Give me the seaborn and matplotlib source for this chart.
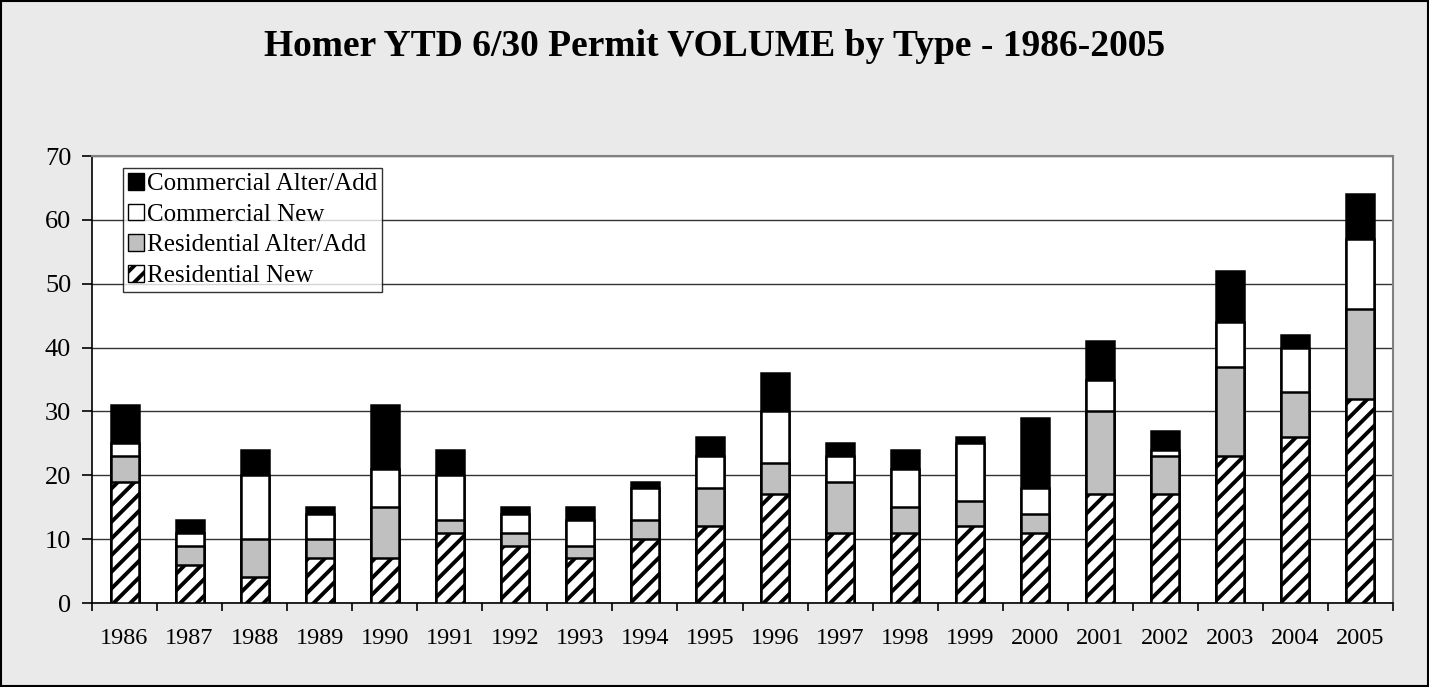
import seaborn as sns
import matplotlib.pyplot as plt
import pandas as pd
import numpy as np
from matplotlib.patches import Patch, Rectangle

years = ['1986', '1987', '1988', '1989', '1990', '1991', '1992', '1993', '1994', '1995',
         '1996', '1997', '1998', '1999', '2000', '2001', '2002', '2003', '2004', '2005']
res_new = [19, 6, 4, 7, 7, 11, 9, 7, 10, 12, 17, 11, 11, 12, 11, 17, 17, 23, 26, 32]
res_alter = [4, 3, 6, 3, 8, 2, 2, 2, 3, 6, 5, 8, 4, 4, 3, 13, 6, 14, 7, 14]
com_new = [2, 2, 10, 4, 6, 7, 3, 4, 5, 5, 8, 4, 6, 9, 4, 5, 1, 7, 7, 11]
com_alter = [6, 2, 4, 1, 10, 4, 1, 2, 1, 3, 6, 2, 3, 1, 11, 6, 3, 8, 2, 7]

df = pd.DataFrame({'Year': years, 'Residential New': res_new,
                   'Residential Alter/Add': res_alter,
                   'Commercial New': com_new, 'Commercial Alter/Add': com_alter})
# cumulative heights so the stacked look comes from overlapping bars
df['c1'] = df['Residential New']
df['c2'] = df['c1'] + df['Residential Alter/Add']
df['c3'] = df['c2'] + df['Commercial New']
df['c4'] = df['c3'] + df['Commercial Alter/Add']

sns.set_style('white')
plt.rcParams['font.family'] = ['Liberation Serif', 'DejaVu Serif']
plt.rcParams['hatch.linewidth'] = 2.8
plt.rcParams['text.color'] = 'black'
plt.rcParams['xtick.color'] = 'black'
plt.rcParams['ytick.color'] = 'black'

fig = plt.figure(figsize=(14.29, 6.87), dpi=100, facecolor='#eaeaea')
ax = fig.add_axes([92 / 1429, 1 - 603 / 687, 1301 / 1429, 447 / 687])
ax.set_facecolor('white')

layers = [('c4', 'black', None), ('c3', 'white', None), ('c2', '#c0c0c0', None), ('c1', 'white', '//')]
for col, color, hatch in layers:
    sns.barplot(x='Year', y=col, data=df, color=color, width=0.43, saturation=1,
                edgecolor='black', linewidth=1.8, hatch=hatch, ax=ax, zorder=3)

ax.set_ylim(0, 70)
ax.set_xlim(-0.5, 19.5)
ax.set_yticks(range(0, 71, 10))
ax.yaxis.grid(True, color='#333333', linewidth=1.0, zorder=0)
ax.set_axisbelow(True)
ax.set_xlabel('')
ax.set_ylabel('')
ax.tick_params(axis='y', labelsize=19, length=7, width=1.2, direction='out', left=True, pad=8)
ax.tick_params(axis='x', labelsize=17.5, length=0, pad=18)
ax.set_xticks(np.arange(-0.5, 20, 1), minor=True)
ax.tick_params(axis='x', which='minor', length=6, width=1.2, bottom=True)
for side in ['top', 'right']:
    ax.spines[side].set_color('#808080')
    ax.spines[side].set_linewidth(1.5)
for side in ['left', 'bottom']:
    ax.spines[side].set_color('black')
    ax.spines[side].set_linewidth(1.2)

handles = [Patch(facecolor='black', edgecolor='black', label='Commercial Alter/Add'),
           Patch(facecolor='white', edgecolor='black', label='Commercial New'),
           Patch(facecolor='#c0c0c0', edgecolor='black', label='Residential Alter/Add'),
           Patch(facecolor='white', edgecolor='black', hatch='//', label='Residential New')]
leg = ax.legend(handles=handles, loc='upper left', bbox_to_anchor=(31 / 1301, 1 - 12 / 447),
                fontsize=18, frameon=True, fancybox=False, edgecolor='black',
                handlelength=0.65, handleheight=0.65, handletextpad=0.1,
                borderpad=0.2, labelspacing=0.34, borderaxespad=0)
leg.get_frame().set_linewidth(1.0)

fig.text(0.5, 1 - 46 / 687, 'Homer YTD 6/30 Permit VOLUME by Type - 1986-2005',
         ha='center', va='center', fontsize=27, fontweight='bold')
fig.patches.append(Rectangle((0.0007, 0.001), 0.9986, 0.998, transform=fig.transFigure,
                             fill=False, edgecolor='black', linewidth=1.5))

fig.savefig('out.png', dpi=100, facecolor=fig.get_facecolor())
